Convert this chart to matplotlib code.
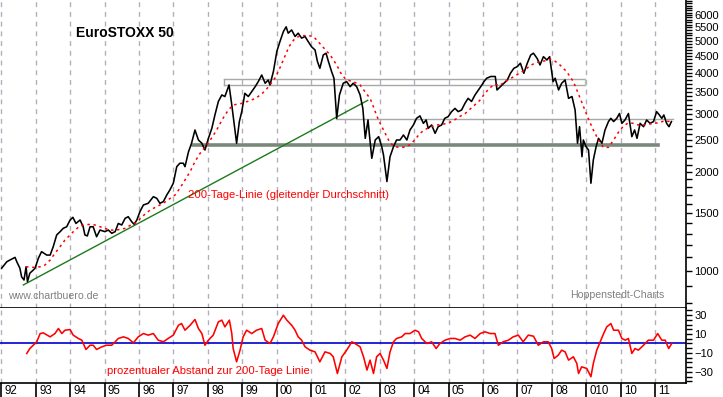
import numpy as np
import matplotlib.pyplot as plt
import matplotlib.ticker as mticker
import matplotlib.transforms as mtrans

plt.rcParams['font.family'] = ['Liberation Sans', 'DejaVu Sans']

W, H = 723, 397

# EuroSTOXX 50 (Dezimaljahr / Punkte)
kurs_t = [1992.01, 1992.16, 1992.25, 1992.40, 1992.45, 1992.54, 1992.59, 1992.66, 1992.72, 1992.76,
          1992.83, 1992.93, 1992.98, 1993.08, 1993.17, 1993.32, 1993.42, 1993.51, 1993.61, 1993.71,
          1993.80, 1993.90, 1994.00, 1994.08, 1994.17, 1994.29, 1994.38, 1994.43, 1994.50, 1994.58,
          1994.67, 1994.77, 1994.87, 1995.01, 1995.11, 1995.21, 1995.31, 1995.40, 1995.50, 1995.60,
          1995.69, 1995.79, 1995.86, 1995.94, 1996.03, 1996.13, 1996.27, 1996.42, 1996.52, 1996.61,
          1996.71, 1996.81, 1996.90, 1997.00, 1997.10, 1997.19, 1997.29, 1997.34, 1997.44, 1997.53,
          1997.63, 1997.73, 1997.83, 1997.92, 1998.02, 1998.12, 1998.21, 1998.31, 1998.41, 1998.50,
          1998.62, 1998.70, 1998.76, 1998.84, 1998.92, 1998.99, 1999.08, 1999.18, 1999.28, 1999.38,
          1999.47, 1999.57, 1999.67, 1999.76, 1999.81, 1999.91, 2000.01, 2000.10, 2000.20, 2000.28,
          2000.34, 2000.44, 2000.54, 2000.63, 2000.73, 2000.83, 2000.92, 2001.02, 2001.12, 2001.19,
          2001.26, 2001.36, 2001.44, 2001.51, 2001.60, 2001.67, 2001.75, 2001.83, 2001.94, 2002.04,
          2002.14, 2002.23, 2002.33, 2002.43, 2002.51, 2002.58, 2002.66, 2002.70, 2002.77, 2002.87,
          2002.97, 2003.06, 2003.11, 2003.21, 2003.30, 2003.40, 2003.49, 2003.59, 2003.69, 2003.79,
          2003.88, 2003.98, 2004.07, 2004.17, 2004.27, 2004.35, 2004.41, 2004.51, 2004.61, 2004.70,
          2004.80, 2004.89, 2004.99, 2005.09, 2005.19, 2005.28, 2005.38, 2005.48, 2005.57, 2005.67,
          2005.77, 2005.87, 2005.97, 2006.03, 2006.11, 2006.23, 2006.36, 2006.41, 2006.51, 2006.61,
          2006.71, 2006.80, 2006.90, 2007.00, 2007.09, 2007.19, 2007.29, 2007.39, 2007.47, 2007.58,
          2007.66, 2007.76, 2007.86, 2007.94, 2008.04, 2008.10, 2008.20, 2008.29, 2008.39, 2008.49,
          2008.59, 2008.68, 2008.75, 2008.81, 2008.88, 2008.92, 2009.00, 2009.07, 2009.14, 2009.21,
          2009.29, 2009.36, 2009.46, 2009.55, 2009.65, 2009.72, 2009.80, 2009.89, 2009.97, 2010.04,
          2010.13, 2010.23, 2010.33, 2010.41, 2010.48, 2010.57, 2010.67, 2010.76, 2010.86, 2010.96,
          2011.05, 2011.13, 2011.20, 2011.26, 2011.34, 2011.41, 2011.48]
kurs = [1020, 1067, 1080, 1100, 1067, 1020, 960, 939, 1030, 928,
        985, 1007, 1020, 1095, 1145, 1118, 1118, 1186, 1287, 1317,
        1348, 1363, 1429, 1456, 1395, 1429, 1363, 1287, 1278, 1363,
        1363, 1271, 1332, 1317, 1332, 1302, 1317, 1395, 1380, 1446,
        1462, 1412, 1387, 1429, 1515, 1587, 1606, 1682, 1663, 1606,
        1625, 1702, 1763, 1848, 2075, 2126, 2126, 2075, 2300, 2445,
        2682, 2501, 2445, 2332, 2530, 2714, 2979, 3275, 3427, 3390,
        3675, 3195, 2845, 2445, 2845, 3050, 3467, 3390, 3508, 3632,
        3763, 3941, 3720, 3806, 3675, 4040, 4650, 4980, 5340, 5520,
        5280, 5400, 5160, 5280, 5100, 5160, 4980, 4800, 4695, 4330,
        4130, 4534, 4590, 4330, 4040, 3853, 2910, 3427, 3720, 3763,
        3632, 3720, 3632, 3427, 3120, 2530, 2877, 2600, 2200, 2501,
        2560, 2385, 2252, 1870, 2225, 2385, 2501, 2501, 2590, 2501,
        2682, 2778, 2910, 2960, 2810, 2877, 2714, 2778, 2620, 2745,
        2778, 2910, 2945, 3050, 3120, 3050, 3085, 3235, 3347, 3275,
        3427, 3549, 3675, 3763, 3853, 3900, 3900, 3549, 3632, 3720,
        3806, 3989, 4130, 4180, 4280, 3989, 4280, 4534, 4590, 4420,
        4227, 4480, 4378, 4480, 3763, 3853, 3549, 3720, 3806, 3347,
        3390, 3085, 2445, 2745, 2225, 2501, 2385, 2332, 1848, 2175,
        2385, 2530, 2445, 2682, 2845, 2910, 2845, 2910, 3010, 2810,
        2877, 3010, 2560, 2682, 2530, 2810, 2745, 2877, 2810, 2845,
        3050, 2979, 2910, 2979, 2810, 2745, 2845]

# 200-Tage-Linie
gd_t = [1992.72, 1992.93, 1993.13, 1993.27, 1993.42, 1993.56, 1993.71, 1993.85, 1994.00, 1994.14,
        1994.29, 1994.43, 1994.58, 1994.72, 1994.87, 1995.01, 1995.16, 1995.31, 1995.45, 1995.60,
        1995.74, 1995.89, 1996.03, 1996.18, 1996.32, 1996.47, 1996.61, 1996.76, 1996.90, 1997.05,
        1997.19, 1997.34, 1997.49, 1997.63, 1997.78, 1997.97, 1998.12, 1998.26, 1998.38, 1998.50,
        1998.62, 1998.74, 1998.87, 1998.99, 1999.14, 1999.28, 1999.43, 1999.57, 1999.70, 1999.81,
        1999.95, 2000.08, 2000.22, 2000.36, 2000.50, 2000.64, 2000.78, 2000.92, 2001.07, 2001.21,
        2001.36, 2001.56, 2001.75, 2001.90, 2002.04, 2002.23, 2002.43, 2002.62, 2002.72, 2002.82,
        2002.92, 2003.02, 2003.16, 2003.30, 2003.45, 2003.59, 2003.74, 2003.88, 2004.03, 2004.17,
        2004.32, 2004.46, 2004.60, 2004.75, 2004.89, 2005.04, 2005.18, 2005.33, 2005.47, 2005.62,
        2005.77, 2005.91, 2006.06, 2006.20, 2006.35, 2006.49, 2006.64, 2006.78, 2006.93, 2007.07,
        2007.22, 2007.36, 2007.51, 2007.65, 2007.80, 2007.94, 2008.05, 2008.24, 2008.43, 2008.63,
        2008.77, 2008.92, 2009.06, 2009.21, 2009.36, 2009.50, 2009.65, 2009.80, 2009.95, 2010.09,
        2010.23, 2010.38, 2010.52, 2010.66, 2010.81, 2010.95, 2011.10, 2011.24, 2011.39, 2011.48]
gd200 = [1030, 1026, 1030, 1043, 1080, 1132, 1186, 1242, 1287, 1332,
         1370, 1380, 1387, 1380, 1363, 1348, 1332, 1330, 1338, 1348,
         1375, 1395, 1440, 1490, 1530, 1560, 1587, 1620, 1660, 1702,
         1783, 1890, 2005, 2150, 2280, 2415, 2540, 2682, 2830, 2979,
         3100, 3195, 3215, 3230, 3270, 3309, 3370, 3450, 3560, 3675,
         3850, 4100, 4430, 4800, 5036, 5160, 5190, 5190, 5160, 4980,
         4780, 4534, 4227, 3941, 3806, 3763, 3675, 3450, 3350, 3150,
         2950, 2800, 2620, 2450, 2385, 2375, 2380, 2420, 2510, 2620,
         2690, 2740, 2770, 2785, 2800, 2830, 2880, 2950, 3000, 3100,
         3200, 3300, 3467, 3600, 3700, 3660, 3763, 3825, 3920, 3989,
         4082, 4200, 4280, 4330, 4350, 4400, 4378, 4227, 4040, 3763,
         3467, 3165, 2910, 2682, 2501, 2375, 2375, 2501, 2650, 2760,
         2820, 2810, 2778, 2778, 2790, 2810, 2820, 2850, 2850, 2845]

# prozentualer Abstand zur 200-Tage-Linie
abst_t = [1992.74, 1992.83, 1992.93, 1993.03, 1993.13, 1993.22, 1993.42, 1993.56, 1993.66, 1993.76,
          1993.85, 1994.00, 1994.09, 1994.24, 1994.34, 1994.46, 1994.58, 1994.67, 1994.77, 1994.92,
          1995.06, 1995.21, 1995.31, 1995.40, 1995.55, 1995.69, 1995.84, 1995.98, 1996.13, 1996.27,
          1996.42, 1996.56, 1996.71, 1996.85, 1997.00, 1997.15, 1997.24, 1997.34, 1997.49, 1997.63,
          1997.73, 1997.83, 1997.92, 1998.02, 1998.16, 1998.31, 1998.41, 1998.50, 1998.63, 1998.70,
          1998.74, 1998.84, 1998.94, 1999.03, 1999.13, 1999.28, 1999.42, 1999.57, 1999.67, 1999.81,
          1999.91, 2000.05, 2000.20, 2000.30, 2000.44, 2000.54, 2000.63, 2000.73, 2000.83, 2000.97,
          2001.12, 2001.26, 2001.41, 2001.56, 2001.65, 2001.77, 2001.90, 2002.04, 2002.19, 2002.28,
          2002.43, 2002.53, 2002.63, 2002.72, 2002.82, 2002.91, 2003.01, 2003.11, 2003.21, 2003.30,
          2003.40, 2003.49, 2003.64, 2003.74, 2003.88, 2004.03, 2004.13, 2004.22, 2004.37, 2004.51,
          2004.64, 2004.75, 2004.90, 2005.05, 2005.19, 2005.34, 2005.48, 2005.63, 2005.77, 2005.92,
          2006.06, 2006.21, 2006.35, 2006.45, 2006.59, 2006.74, 2006.88, 2007.03, 2007.17, 2007.32,
          2007.47, 2007.61, 2007.76, 2007.90, 2008.00, 2008.07, 2008.19, 2008.29, 2008.39, 2008.49,
          2008.63, 2008.73, 2008.78, 2008.87, 2009.02, 2009.14, 2009.21, 2009.31, 2009.41, 2009.51,
          2009.60, 2009.72, 2009.80, 2009.94, 2010.04, 2010.14, 2010.23, 2010.33, 2010.42, 2010.52,
          2010.67, 2010.81, 2010.96, 2011.08, 2011.20, 2011.30, 2011.40, 2011.49]
abst = [-10.5, -5.3, -1.8, 1.8, 10.5, 11.2, 7, 10.5, 15.8, 10.5,
        14, 14.7, 8.8, 5.3, 3.5, -6.3, -1.8, -1.8, -6.3, -3.5,
        -1.8, -1.8, 1.8, 5.3, 7, 5.3, 0.7, 7, 10.5, 8.8,
        10.5, 3.5, 1.8, 5.3, 8.8, 19.3, 21, 14, 19.3, 25.3,
        15.8, 10.5, -1.8, 3.5, 8.8, 22.8, 24.6, 17.5, 24.6, 10.5,
        -5.3, -19.3, -7, 7, 14, 10.5, 14, 15.8, 3.5, 0,
        7, 21, 29.8, 24.6, 19.3, 14, 7, 3.5, -3.5, -7,
        -8.8, -19.3, -8.8, -10.5, -14, -31.6, -14, -7, 1.8, 0,
        -3.5, -14, -28, -17.5, -31.6, -14, -10.5, -17.5, -26.3, -8.8,
        1.8, 5.3, 7, 10.5, 10.5, 14, 12.3, 5.3, 0, 1.8,
        -5.3, 0, 3.5, 5.3, 5.3, 3.5, 7, 8.8, 5.3, 10.5,
        12.3, 10.5, 10.5, -1.8, 1.8, 3.5, 7, 8.8, 1.8, 8.8,
        7.7, -1.8, 1.8, 1.8, -5.3, -15.8, -12.3, -7, -8.8, -17.5,
        -14, -21, -31.6, -24.6, -26.3, -35, -21, -7, 1.8, 10.5,
        17.5, 21, 14, 14, 5.3, 3.5, 5.3, -10.5, -5.3, -7,
        -1.8, 3.5, 3.5, 10.5, 3.5, 3.5, -5.3, 0]

jahre = list(range(1992, 2012))
jahr_labels = ["92", "93", "94", "95", "96", "97", "98", "99", "00", "01",
               "02", "03", "04", "05", "06", "07", "08", "010", "10", "11"]
kurs_ticks = [1000, 1500, 2000, 2500, 3000, 3500, 4000, 4500, 5000, 5500, 6000]
abst_ticks = [30, 10, -10, -30]

# Trendlinie, Unterstuetzung, Widerstandszone
trend_t = [1992.64, 2002.65]
trend_v = [907, 3300]
unterst_t = [1997.57, 2011.09]
unterst_v = 2415
zone_t = [1998.48, 2008.97]
zone_v = [3662, 3828]
linie_t = [2001.72, 2011.52]
linie_v = 2890

xmin, xmax = 1991.962, 2011.904
grid_col = "#b4aebc"

fig = plt.figure(figsize=(W / 100, H / 100), dpi=100)
ax = fig.add_axes([0, 1 - 308 / H, 686 / W, 308 / H])
ax2 = fig.add_axes([0, 1 - 382.7 / H, 686 / W, (382.7 - 308) / H], sharex=ax)

for a in (ax, ax2):
    for s in ("left", "top"):
        a.spines[s].set_visible(False)
    a.spines["right"].set_linewidth(1.2)
    a.spines["bottom"].set_linewidth(1.2)
    a.yaxis.tick_right()
    a.set_facecolor("white")
    for j in jahre:
        a.axvline(j, color=grid_col, lw=1, ls=(0, (3.5, 3.5)), zorder=0)

# --- oberes Fenster
ax.set_yscale("log")
ax.set_ylim(772, 6660)
ax.set_xlim(xmin, xmax)
ax.yaxis.set_major_locator(mticker.FixedLocator(kurs_ticks))
ax.yaxis.set_major_formatter(mticker.FixedFormatter([str(v) for v in kurs_ticks]))
ax.yaxis.set_minor_locator(mticker.FixedLocator([v for v in range(800, 6700, 100) if v not in kurs_ticks]))
ax.yaxis.set_minor_formatter(mticker.NullFormatter())
ax.tick_params(axis="y", which="both", direction="out", length=4.5, width=1, labelsize=8, pad=1.5)
ax.tick_params(axis="x", which="both", length=0, labelbottom=False)

ax.plot(zone_t, [zone_v[1], zone_v[1]], color="#a8a8a8", lw=1, zorder=2)
ax.plot(zone_t, [zone_v[0], zone_v[0]], color="#a8a8a8", lw=1, zorder=2)
ax.plot([zone_t[0], zone_t[0]], zone_v, color="#a8a8a8", lw=1, zorder=2)
ax.plot([zone_t[1], zone_t[1]], zone_v, color="#a8c8a8", lw=1, zorder=2)
ax.plot(linie_t, [linie_v, linie_v], color="#a8a8a8", lw=1, zorder=2)
ax.plot(unterst_t, [unterst_v, unterst_v], color="#7a887c", lw=2.6, zorder=2)
ax.plot(trend_t, trend_v, color="#1c7a1c", lw=1.0, zorder=3)

ax.plot(kurs_t, kurs, color="black", lw=1.15, zorder=4)
ax.plot(gd_t, gd200, color="red", lw=1.1, ls=(0, (1.6, 2.4)), zorder=5)

# --- unteres Fenster
ax2.set_ylim(-41.3, 37.4)
ax2.yaxis.set_major_locator(mticker.FixedLocator(abst_ticks))
ax2.yaxis.set_minor_locator(mticker.FixedLocator([v for v in range(-40, 40, 5) if v not in abst_ticks]))
ax2.yaxis.set_minor_formatter(mticker.NullFormatter())
ax2.tick_params(axis="y", which="both", direction="out", length=4.5, width=1, labelsize=8, pad=1.5)
ax2.axhline(0, color="#0000cc", lw=1.2, zorder=2)
ax2.plot(abst_t, abst, color="red", lw=1.15, zorder=3)

ax2.set_xticks(jahre)
ax2.set_xticklabels(jahr_labels)
ax2.tick_params(axis="x", which="major", direction="out", length=10.5, width=1.2,
                labelsize=8.3, pad=-8.8)
offset = mtrans.ScaledTranslation(2.5 / 72, 0, fig.dpi_scale_trans)
for lab in ax2.get_xticklabels():
    lab.set_horizontalalignment("left")
    lab.set_transform(lab.get_transform() + offset)


def px(x, y):
    return x / W, 1 - y / H


fig.text(*px(76, 33), "EuroSTOXX 50", fontsize=10, fontweight="bold", va="center", ha="left")
fig.text(*px(188, 195), "200-Tage-Linie (gleitender Durchschnitt)", fontsize=8.1,
         color="red", va="center", ha="left")
fig.text(*px(8, 296), "www.chartbuero.de", fontsize=7.6, color="#808080", va="center", ha="left")
fig.text(*px(570, 295), "Hoppenstedt-Charts", fontsize=7.6, color="#808080", va="center", ha="left")
fig.text(*px(107, 371), "prozentualer Abstand zur 200-Tage Linie", fontsize=8.1,
         color="red", va="center", ha="left")

fig.savefig("out.png", dpi=100, facecolor="white")
